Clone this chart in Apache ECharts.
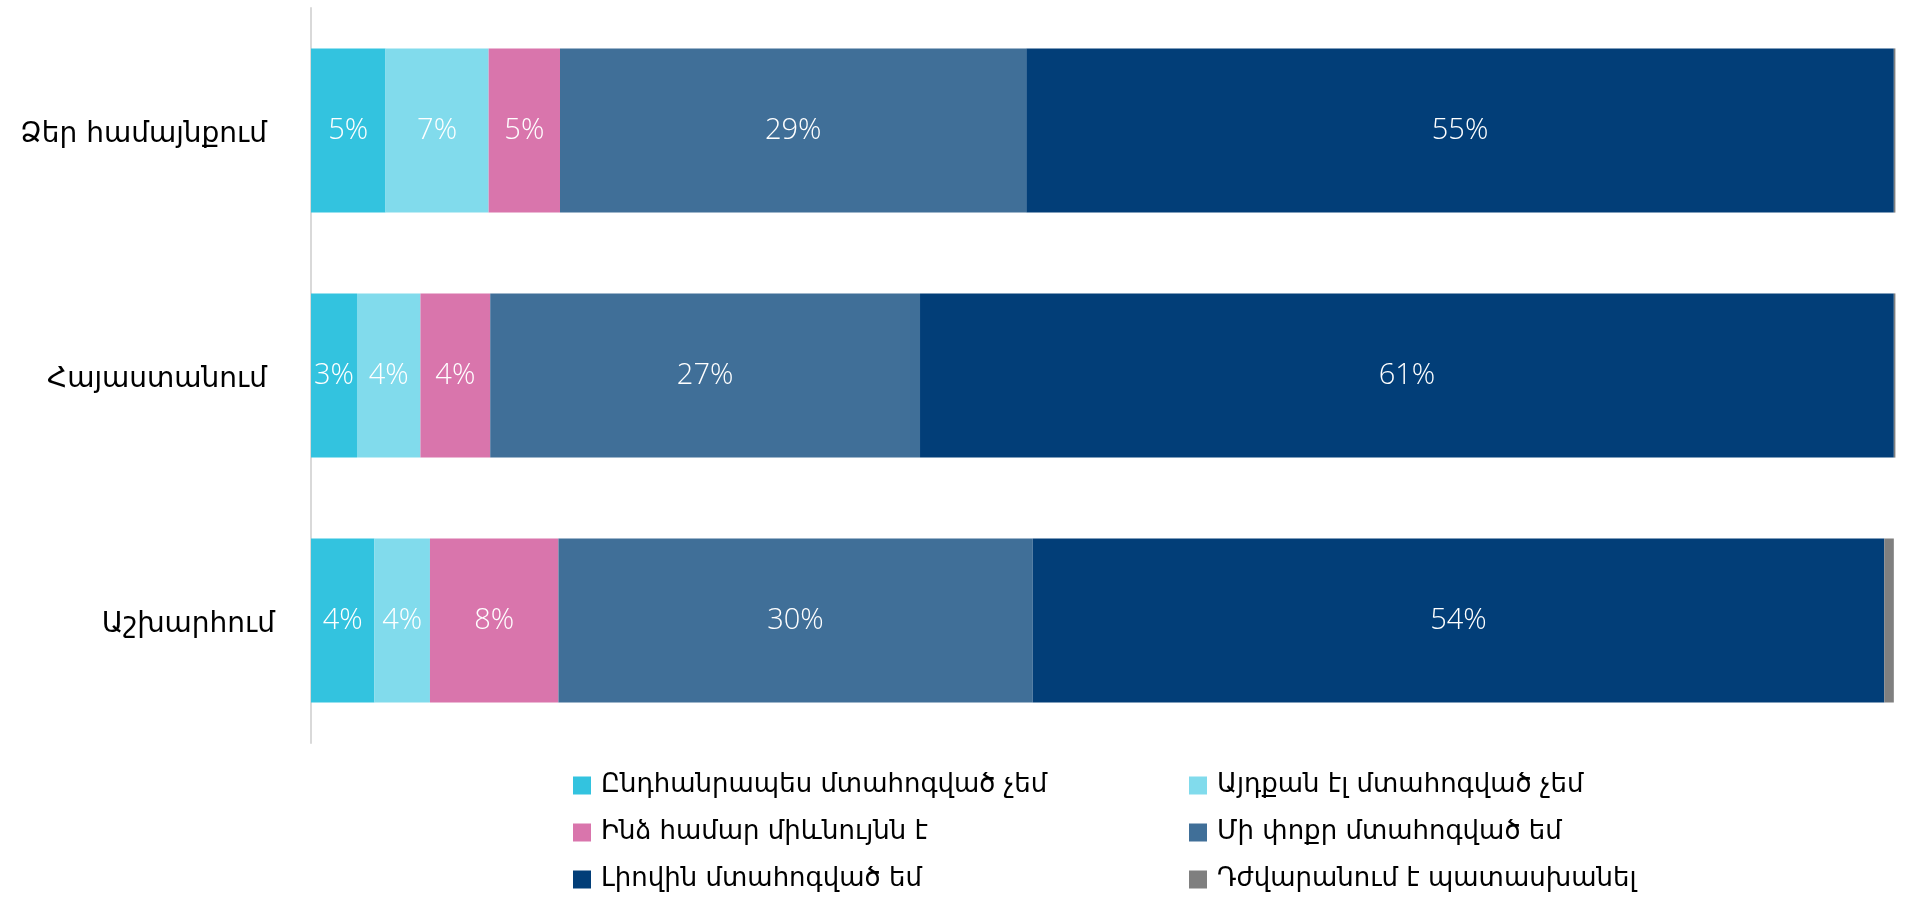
<!DOCTYPE html>
<html>
<head>
<meta charset="utf-8">
<script src="https://cdn.jsdelivr.net/npm/echarts@6/dist/echarts.min.js"></script>
<style>html,body{margin:0;padding:0;background:#fff;}#c{width:1908px;height:899px;}</style>
</head>
<body>
<div id="c"></div>
<script>
var categories = ['Ձեր համայնքում', 'Հայաստանում', 'Աշխարհում'];
var seriesNames = [
  'Ընդհանրապես մտահոգված չեմ',
  'Այդքան էլ մտահոգված չեմ',
  'Ինձ համար միևնույնն է',
  'Մի փոքր մտահոգված եմ',
  'Լիովին մտահոգված եմ',
  'Դժվարանում է պատասխանել'
];
var notConcerned = [4.7, 2.9, 4.0];
var notVery = [6.5, 4.0, 3.5];
var indifferent = [4.5, 4.4, 8.1];
var aLittle = [29.4, 27.1, 29.9];
var fully = [54.7, 61.4, 53.7];
var hardToSay = [0.1, 0.1, 0.6];
var colors = ['#33C3DF', '#81DBEC', '#D975AC', '#406F98', '#023E78', '#7F7F7F'];

var seriesData = [notConcerned, notVery, indifferent, aLittle, fully, hardToSay];
var chart = echarts.init(document.getElementById('c'), null, {renderer: 'canvas'});
var series = seriesData.map(function (d, i) {
  return {
    name: seriesNames[i],
    type: 'bar',
    stack: 'total',
    barCategoryGap: '33%',
    data: d,
    itemStyle: {color: colors[i]},
    label: {
      show: true,
      position: 'inside',
      color: '#fff',
      fontFamily: 'Open Sans',
      fontWeight: 300,
      fontSize: 29,
      formatter: function (p) { return p.value >= 1 ? Math.round(p.value) + '%' : ''; }
    }
  };
});
chart.setOption({
  animation: false,
  color: colors,
  grid: {left: 311, right: 11, top: 8, bottom: 156, containLabel: false},
  xAxis: {type: 'value', min: 0, max: 100, show: false},
  yAxis: {
    type: 'category',
    inverse: true,
    data: categories,
    axisLine: {show: true, lineStyle: {color: '#d9d9d9', width: 2}},
    axisTick: {show: false},
    axisLabel: {
      margin: 36,
      color: '#000',
      fontFamily: 'DejaVu Sans',
      fontSize: 28,
      formatter: function (v, idx) { return idx === 2 ? '{b|' + v + '}' : '{a|' + v + '}'; },
      rich: {
        a: {fontFamily: 'DejaVu Sans', fontSize: 28, color: '#000', padding: [8, 8, 0, 0]},
        b: {fontFamily: 'DejaVu Sans', fontSize: 28, color: '#000', padding: [8, 0, 0, 0]}
      }
    }
  },
  legend: {
    left: 568,
    top: 762,
    width: 1300,
    orient: 'horizontal',
    itemWidth: 18,
    itemHeight: 18,
    itemGap: 10,
    icon: 'rect',
    data: seriesNames,
    textStyle: {
      width: 578,
      lineHeight: 37,
      color: '#000',
      fontFamily: 'DejaVu Sans',
      fontSize: 26,
      padding: [0, 0, 0, 5]
    }
  },
  series: series
});
</script>
</body>
</html>
